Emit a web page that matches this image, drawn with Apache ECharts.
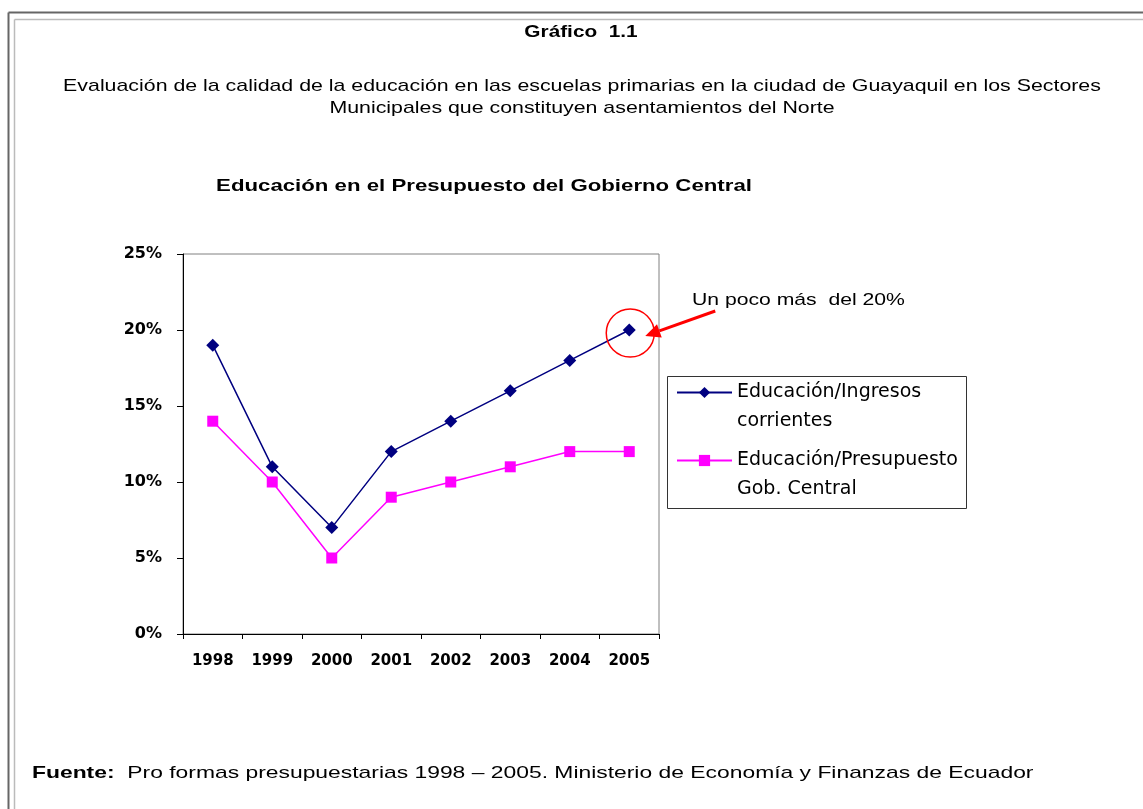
<!DOCTYPE html>
<html>
<head>
<meta charset="utf-8">
<title>Gráfico 1.1</title>
<script src="https://cdn.jsdelivr.net/npm/echarts@6/dist/echarts.min.js"></script>
<style>
  html, body { margin: 0; padding: 0; background: #fff; }
  #chart { width: 1143px; height: 809px; }
</style>
</head>
<body>
<div id="chart"></div>
<script>
// datos (porcentajes)
const years = ["1998", "1999", "2000", "2001", "2002", "2003", "2004", "2005"];
const ingresosCorrientes = [19, 11, 7, 12, 14, 16, 18, 20];
const presupuestoGob = [14, 10, 5, 9, 10, 11, 12, 12];
const seriesNames = ["Educación/Ingresos\ncorrientes", "Educación/Presupuesto\nGob. Central"];
const yTicks = { min: 0, max: 25, step: 5 };

const FONT = "Liberation Sans, Arial, sans-serif";
const WIDE = "DejaVu Sans, sans-serif";

const chart = echarts.init(document.getElementById("chart"));

const option = {
  animation: false,
  backgroundColor: "#fff",
  textStyle: { fontFamily: FONT },
  grid: {
    left: 183,
    top: 254,
    width: 476,
    height: 380,
    show: true,
    borderColor: "#808080",
    borderWidth: 1,
    containLabel: false,
  },
  xAxis: {
    type: "category",
    data: years,
    boundaryGap: true,
    axisLine: { lineStyle: { color: "#000", width: 1 } },
    axisTick: { show: true, length: 5, lineStyle: { color: "#000" } },
    axisLabel: {
      margin: 20,
      color: "#000",
      fontSize: 15,
      fontWeight: "bold",
      fontFamily: WIDE,
    },
    splitLine: { show: false },
  },
  yAxis: {
    type: "value",
    min: yTicks.min,
    max: yTicks.max,
    interval: yTicks.step,
    axisLine: { show: true, lineStyle: { color: "#000", width: 1 } },
    axisTick: { show: true, length: 6, lineStyle: { color: "#000" } },
    axisLabel: {
      formatter: "{value}%",
      margin: 21,
      color: "#000",
      fontSize: 16,
      fontWeight: "bold",
      fontFamily: WIDE,
    },
    splitLine: { show: false },
  },
  legend: {
    orient: "vertical",
    left: 676,
    top: 349,
    padding: 0,
    itemWidth: 55,
    itemHeight: 14,
    itemGap: -19,
    // línea vacía delante para que la primera línea quede alineada con el icono
    formatter: (name) => "\n" + name,
    textStyle: {
      fontSize: 19,
      color: "#000",
      fontFamily: WIDE,
      lineHeight: 29,
    },
    data: seriesNames,
  },
  series: [
    {
      name: seriesNames[0],
      type: "line",
      data: ingresosCorrientes,
      symbol: "diamond",
      symbolSize: 13,
      lineStyle: { color: "#000080", width: 1.5 },
      itemStyle: { color: "#000080" },
    },
    {
      name: seriesNames[1],
      type: "line",
      data: presupuestoGob,
      symbol: "rect",
      symbolSize: 11,
      lineStyle: { color: "#ff00ff", width: 1.5 },
      itemStyle: { color: "#ff00ff" },
    },
  ],
  graphic: [
    // marco de la página
    { type: "line", shape: { x1: 8.5, y1: 12.5, x2: 1143, y2: 12.5 }, style: { stroke: "#666", lineWidth: 2 } },
    { type: "line", shape: { x1: 8.5, y1: 12.5, x2: 8.5, y2: 809 }, style: { stroke: "#666", lineWidth: 2 } },
    { type: "line", shape: { x1: 14.5, y1: 19.5, x2: 1143, y2: 19.5 }, style: { stroke: "#bbb", lineWidth: 1.5 } },
    { type: "line", shape: { x1: 14.5, y1: 19.5, x2: 14.5, y2: 809 }, style: { stroke: "#bbb", lineWidth: 1.5 } },
    {
      type: "text", x: 581, y: 33, scaleX: 1.3,
      style: { text: "Gráfico  1.1", font: "bold 16px " + FONT, fill: "#000", align: "center", verticalAlign: "middle" },
    },
    {
      type: "text", x: 582, y: 97, scaleX: 1.255,
      style: {
        text: "Evaluación de la calidad de la educación en las escuelas primarias en la ciudad de Guayaquil en los Sectores\nMunicipales que constituyen asentamientos del Norte",
        font: "17px " + FONT, lineHeight: 22, fill: "#000", align: "center", verticalAlign: "middle",
      },
    },
    {
      type: "text", x: 484, y: 186, scaleX: 1.307,
      style: { text: "Educación en el Presupuesto del Gobierno Central", font: "bold 17px " + FONT, fill: "#000", align: "center", verticalAlign: "middle" },
    },
    {
      type: "text", x: 692, y: 300, scaleX: 1.245,
      style: { text: "Un poco más  del 20%", font: "17px " + FONT, fill: "#000", align: "left", verticalAlign: "middle" },
    },
    // caja de la leyenda
    { type: "rect", shape: { x: 667.5, y: 376.5, width: 299, height: 132 }, style: { fill: "none", stroke: "#333", lineWidth: 1 }, z: 1 },
    {
      type: "text", x: 32, y: 773, scaleX: 1.345,
      style: {
        text: "{b|Fuente:}  Pro formas presupuestarias 1998 – 2005. Ministerio de Economía y Finanzas de Ecuador",
        font: "17px " + FONT, fill: "#000", verticalAlign: "middle",
        rich: { b: { fontWeight: "bold", fontSize: 17, fontFamily: FONT } },
      },
    },
  ],
};

chart.setOption(option);

// círculo y flecha sobre el punto de 2005
const lastIdx = years.length - 1;
const p = chart.convertToPixel({ gridIndex: 0 }, [lastIdx, ingresosCorrientes[lastIdx]]);
const tip = [p[0] + 16, p[1] + 6];
const tail = [p[0] + 86, p[1] - 19];
const ang = Math.atan2(tip[1] - tail[1], tip[0] - tail[0]);
const hl = 15, hw = 7;
const base = [tip[0] - hl * Math.cos(ang), tip[1] - hl * Math.sin(ang)];
const head = [
  tip,
  [base[0] + hw * Math.sin(ang), base[1] - hw * Math.cos(ang)],
  [base[0] - hw * Math.sin(ang), base[1] + hw * Math.cos(ang)],
];

chart.setOption({
  graphic: option.graphic.concat([
    {
      type: "circle", shape: { cx: p[0] + 1, cy: p[1] + 3, r: 24 },
      style: { fill: "none", stroke: "#ff0000", lineWidth: 1.5 }, z: 10,
    },
    {
      type: "line", shape: { x1: tail[0], y1: tail[1], x2: base[0], y2: base[1] },
      style: { stroke: "#ff0000", lineWidth: 3 }, z: 10,
    },
    { type: "polygon", shape: { points: head }, style: { fill: "#ff0000" }, z: 10 },
  ]),
});
</script>
</body>
</html>
